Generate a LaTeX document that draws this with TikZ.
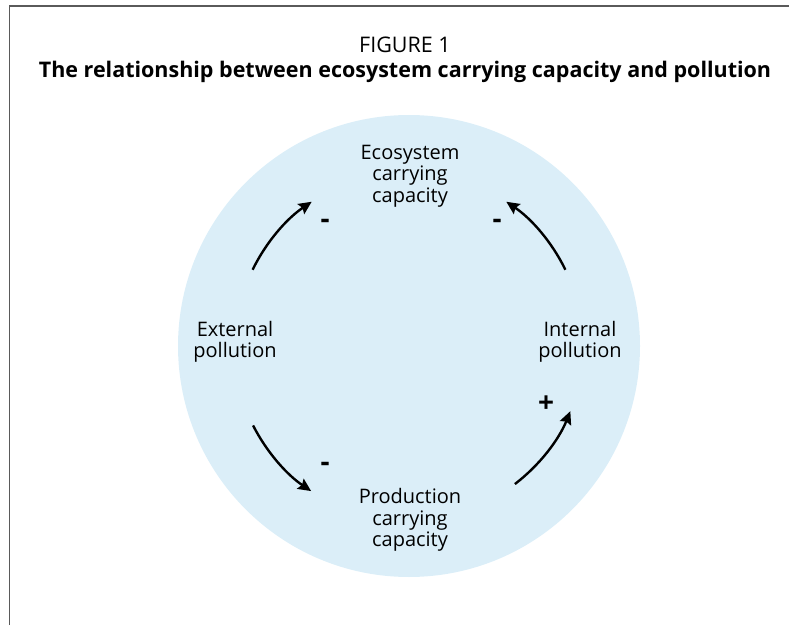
\documentclass[tikz,border=0pt]{standalone}
\usepackage{fontspec}
\setmainfont{Open Sans}
\usetikzlibrary{positioning,arrows.meta,calc}
\definecolor{paleblue}{RGB}{219,238,248}
\definecolor{framegray}{RGB}{90,90,90}
\begin{document}
\begin{tikzpicture}[x=1pt,y=1pt,
 lbl/.style={align=center,inner sep=0pt,font=\fontsize{20}{21.5}\selectfont},
 sgn/.style={inner sep=0pt,font=\fontsize{28}{28}\selectfont\bfseries},
 arr/.style={-{Stealth[length=13pt,width=12pt,inset=2pt]},line width=2.4pt,draw=black}]
\useasboundingbox (0,0) rectangle (789,625);
\draw[framegray,line width=1.5pt] (9.5,0)--(9.5,619)--(789,619);
\node[circle,fill=paleblue,minimum size=462pt,inner sep=0pt] (disc) at (409,279) {};
\node[inner sep=0pt,font=\fontsize{21.5}{24}\selectfont] (fig) at (405,580) {FIGURE 1};
\node[inner sep=0pt,font=\fontsize{21.5}{24}\selectfont\bfseries] (title) at (405,553) {The relationship between ecosystem carrying capacity and pollution};
\node[lbl] (eco) at (410,449) {Ecosystem\\carrying\\capacity};
\node[lbl] (ext) at (235,283) {External\\pollution};
\node[lbl] (int) at (580,283) {Internal\\pollution};
\node[lbl] (prod) at (410,105) {Production\\carrying\\capacity};
% arc ends around the disc centre
\coordinate (tl) at ($(disc.center)+(154:174pt)$);
\coordinate (tr) at ($(disc.center)+(26:174pt)$);
\coordinate (bl) at ($(disc.center)+(207:175pt)$);
\coordinate (br) at ($(disc.center)+(-52.5:174pt)$);
\draw[arr] (tl) arc[start angle=154,end angle=124,radius=174pt];
\draw[arr] (tr) arc[start angle=26,end angle=56,radius=174pt];
\draw[arr] (bl) arc[start angle=207,end angle=236,radius=175pt];
\draw[arr] (br) arc[start angle=-52.5,end angle=-22,radius=174pt];
\node[sgn] (s1) at (325,401) {-};
\node[sgn] (s2) at (497,401) {-};
\node[sgn] (s3) at (325,158) {-};
\node[sgn] (s4) at (546,221) {+};
\end{tikzpicture}
\end{document}
